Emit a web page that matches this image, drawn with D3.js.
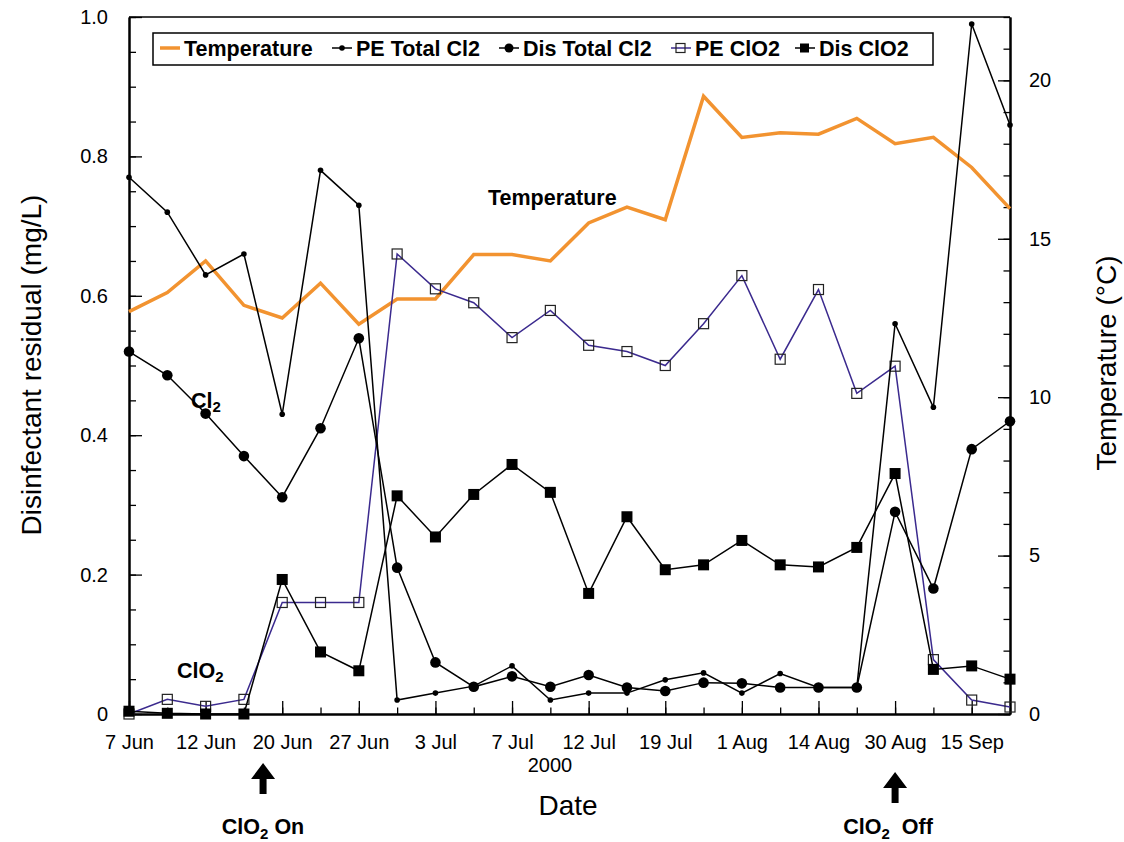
<!DOCTYPE html>
<html>
<head>
<meta charset="utf-8">
<script src="https://cdnjs.cloudflare.com/ajax/libs/d3/7.8.5/d3.min.js"></script>
<style>
body{margin:0;background:#fff;}
svg{font-family:"Liberation Sans",Arial,sans-serif;}
</style>
</head>
<body>
<div id="chart"></div>
<script>
// 24 sampling dates, plotted evenly spaced (index along the x axis)
var samples = d3.range(24);
var tickIdx = [0,2,4,6,8,10,12,14,16,18,20,22];
var tickLabels = ["7 Jun","12 Jun","20 Jun","27 Jun","3 Jul","7 Jul","12 Jul","19 Jul","1 Aug","14 Aug","30 Aug","15 Sep"];

// temperature (°C, right axis)
var temperature = [12.7,13.3,14.3,12.9,12.5,13.6,12.3,13.1,13.1,14.5,14.5,14.3,15.5,16.0,15.6,19.5,18.2,18.35,18.3,18.8,18.0,18.2,17.25,15.95];
// disinfectant residuals (mg/L, left axis)
var peTotalCl2 = [0.77,0.72,0.63,0.66,0.43,0.78,0.73,0.02,0.03,0.04,0.069,0.02,0.03,0.03,0.049,0.059,0.03,0.058,0.038,0.038,0.56,0.44,0.99,0.845];
var disTotalCl2 = [0.52,0.486,0.431,0.37,0.311,0.41,0.539,0.21,0.074,0.039,0.054,0.039,0.056,0.038,0.033,0.045,0.044,0.038,0.038,0.038,0.29,0.18,0.38,0.42];
var peClO2 = [0,0.021,0.011,0.021,0.16,0.16,0.16,0.66,0.61,0.59,0.54,0.579,0.529,0.52,0.5,0.56,0.629,0.509,0.609,0.46,0.499,0.078,0.02,0.01];
var disClO2 = [0.004,0.001,0,0,0.193,0.089,0.062,0.313,0.254,0.315,0.358,0.318,0.173,0.283,0.207,0.214,0.249,0.214,0.211,0.239,0.345,0.064,0.069,0.05];

var seriesNames = ["Temperature","PE Total Cl2","Dis Total Cl2","PE ClO2","Dis ClO2"];

var orange = "#f29330", purple = "#3b2a8e";

var svg = d3.select("#chart").append("svg")
    .attr("width",1124).attr("height",842)
    .style("background","#fff");

var x = d3.scaleLinear().domain([0,23]).range([129,1010]);
var y = d3.scaleLinear().domain([0,1]).range([714,17]);
var yT = d3.scaleLinear().domain([0,22]).range([714,17]);

// frame top line
svg.append("line").attr("x1",129).attr("x2",1010).attr("y1",17).attr("y2",17)
    .attr("stroke","#000").attr("stroke-width",1.5);

function styleAxis(g){
    g.attr("font-size",20).attr("font-family","Liberation Sans, Arial, sans-serif");
    g.selectAll(".tick line").attr("stroke","#000").attr("stroke-width",1.3);
    g.selectAll(".domain").attr("stroke","#000").attr("stroke-width",2);
    g.selectAll("text").attr("fill","#000");
}

// left axis
svg.append("g").attr("transform","translate(129,0)")
    .call(d3.axisLeft(y).tickValues(d3.range(0,1.001,0.05)).tickSize(-7).tickSizeOuter(0).tickFormat(""))
    .call(styleAxis);
svg.append("g").attr("transform","translate(129,0)")
    .call(d3.axisLeft(y).tickValues([0,0.2,0.4,0.6,0.8,1.0]).tickSize(-13).tickSizeOuter(0).tickPadding(21)
        .tickFormat(function(d){ return d===0 ? "0" : d3.format(".1f")(d); }))
    .call(styleAxis);

// right axis
svg.append("g").attr("transform","translate(1010,0)")
    .call(d3.axisRight(yT).tickValues(d3.range(0,23,1)).tickSize(-6.5).tickSizeOuter(0).tickFormat(""))
    .call(styleAxis);
svg.append("g").attr("transform","translate(1010,0)")
    .call(d3.axisRight(yT).tickValues([0,5,10,15,20]).tickSize(-12).tickSizeOuter(0).tickPadding(19))
    .call(styleAxis);

// bottom axis
svg.append("g").attr("transform","translate(0,714)")
    .call(d3.axisBottom(x).tickValues(samples).tickSize(-6.5).tickSizeOuter(0).tickFormat(""))
    .call(styleAxis);
svg.append("g").attr("transform","translate(0,714)")
    .call(d3.axisBottom(x).tickValues(tickIdx).tickSize(-13).tickSizeOuter(0).tickPadding(21)
        .tickFormat(function(d,i){ return tickLabels[i]; }))
    .call(styleAxis);

// axis titles
svg.append("text").attr("transform","translate(41,365) rotate(-90)")
    .attr("text-anchor","middle").attr("font-size",28).text("Disinfectant residual (mg/L)");
svg.append("text").attr("transform","translate(1116,363) rotate(-90)")
    .attr("text-anchor","middle").attr("font-size",28).text("Temperature (°C)");
svg.append("text").attr("x",568).attr("y",815).attr("text-anchor","middle")
    .attr("font-size",28).text("Date");
svg.append("text").attr("x",550).attr("y",772).attr("text-anchor","middle")
    .attr("font-size",20).text("2000");

// lines
function drawLine(vals, scale, color, width){
    var line = d3.line().x(function(d,i){ return x(i); }).y(function(d){ return scale(d); });
    svg.append("path").datum(vals).attr("d",line).attr("fill","none")
        .attr("stroke",color).attr("stroke-width",width).attr("stroke-linejoin","miter");
}
function drawMarkers(vals, type){
    var g = svg.append("g");
    vals.forEach(function(v,i){ marker(g, x(i), y(v), type); });
}
function marker(g, cx, cy, type){
    if(type==="small") g.append("circle").attr("cx",cx).attr("cy",cy).attr("r",2.8).attr("fill","#000");
    if(type==="big") g.append("circle").attr("cx",cx).attr("cy",cy).attr("r",5.3).attr("fill","#000");
    if(type==="open") g.append("rect").attr("x",cx-5).attr("y",cy-5).attr("width",10).attr("height",10)
        .attr("fill","#fff").attr("stroke","#222").attr("stroke-width",1.2).attr("fill-opacity",0);
    if(type==="filled") g.append("rect").attr("x",cx-5.5).attr("y",cy-5.5).attr("width",11).attr("height",11).attr("fill","#000");
}

drawLine(temperature, yT, orange, 3.5);
drawLine(peClO2, y, purple, 1.5);
drawMarkers(peClO2, "open");
drawLine(peTotalCl2, y, "#000", 1.5);
drawMarkers(peTotalCl2, "small");
drawLine(disTotalCl2, y, "#000", 1.5);
drawMarkers(disTotalCl2, "big");
drawLine(disClO2, y, "#000", 1.5);
drawMarkers(disClO2, "filled");

// legend
var lg = svg.append("g").attr("font-size",21.5).attr("font-weight","bold");
lg.append("rect").attr("x",153).attr("y",33).attr("width",780).attr("height",32)
    .attr("fill","#fff").attr("stroke","#000").attr("stroke-width",1.5);
var legStart = [160,332,499,671,795];
var legType = ["none","small","big","open","filled"];
seriesNames.forEach(function(name,i){
    var sx = legStart[i];
    var col = i===0 ? orange : (i===3 ? purple : "#000");
    lg.append("line").attr("x1",sx).attr("x2",sx+20).attr("y1",48).attr("y2",48)
        .attr("stroke",col).attr("stroke-width",i===0?3.5:1.5);
    if(legType[i]==="small") marker(lg, sx+10, 48, "small");
    if(legType[i]==="big") lg.append("circle").attr("cx",sx+10).attr("cy",48).attr("r",4.5).attr("fill","#000");
    if(legType[i]==="open") lg.append("rect").attr("x",sx+5).attr("y",43.5).attr("width",9).attr("height",9)
        .attr("fill","none").attr("stroke","#222").attr("stroke-width",1.2);
    if(legType[i]==="filled") lg.append("rect").attr("x",sx+5).attr("y",43.5).attr("width",9).attr("height",9).attr("fill","#000");
    lg.append("text").attr("x",sx+24).attr("y",56).text(name);
});

// annotations
var ann = svg.append("g").attr("font-weight","bold").attr("font-size",21.5);
ann.append("text").attr("x",488).attr("y",205).text("Temperature");
var t1 = ann.append("text").attr("x",191).attr("y",408).text("Cl");
t1.append("tspan").attr("font-size",15).attr("dy",4).text("2");
var t2 = ann.append("text").attr("x",177).attr("y",678).text("ClO");
t2.append("tspan").attr("font-size",15).attr("dy",4).text("2");

function arrow(cx, top, label, lx){
    svg.append("path")
        .attr("d","M"+cx+","+top+"L"+(cx+12)+","+(top+16)+"L"+(cx+3.5)+","+(top+16)+"L"+(cx+3.5)+","+(top+31)
            +"L"+(cx-3.5)+","+(top+31)+"L"+(cx-3.5)+","+(top+16)+"L"+(cx-12)+","+(top+16)+"Z")
        .attr("fill","#000");
    var t = ann.append("text").attr("x",lx).attr("y",834).attr("text-anchor","middle").text("ClO");
    t.append("tspan").attr("font-size",15).attr("dy",5).text("2");
    t.append("tspan").attr("dy",-5).text(label);
}
arrow(x(3.5), 763, " On", x(3.5));
arrow(x(20), 772, "\u00a0 Off", x(20)-7);
</script>
</body>
</html>
